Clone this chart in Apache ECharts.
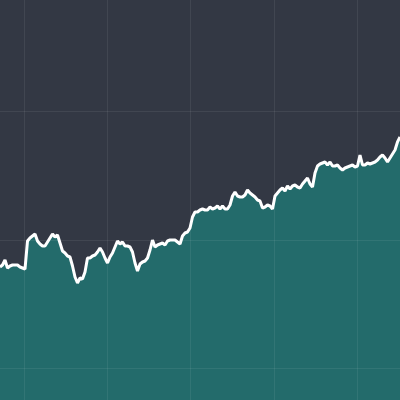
<!DOCTYPE html>
<html>
<head>
<meta charset="utf-8">
<script src="https://cdn.jsdelivr.net/npm/echarts@6/dist/echarts.min.js"></script>
<style>html,body{margin:0;padding:0;background:#333844;}#c{width:400px;height:400px;}</style>
</head>
<body>
<div id="c"></div>
<script>
// Series values (one reading per step, left to right)
var values = [
133,135,140,132,134,135,135,135,133,132,
131,159,162,164,166,159,156,154,154,158,
162,166,163,165,157,149,147,144,143,134,
123,117,122,121,128,142,142,144,145,148,
152,148,142,137,143,147,153,159,156,158,
154,154,153,148,137,129,136,138,139,142,
150,160,153,155,156,157,155,159,160,160,
160,158,156,164,167,168,172,183,188,188,
190,191,190,190,193,191,192,194,191,194,
191,191,195,204,208,204,203,203,205,210,
207,205,203,200,199,192,193,195,194,191,
204,207,210,212,209,214,211,214,215,213,
212,216,219,222,216,213,227,234,236,237,
238,235,238,234,234,235,232,230,232,233,
234,235,233,234,245,235,235,237,236,237,
238,240,243,245,242,238,242,246,250,258,
263
];
var categories = values.map(function (v, i) { return i; });

var chart = echarts.init(document.getElementById('c'), null, {renderer: 'canvas'});
chart.setOption({
  backgroundColor: '#333844',
  animation: false,
  grid: [
    {left: 0, right: 0, top: 0, bottom: 0, containLabel: false, outerBoundsMode: 'none'},
    {left: -59.25, right: -40.25, top: -16.7, bottom: -96.9, containLabel: false, outerBoundsMode: 'none'}
  ],
  xAxis: [
    {type: 'category', data: categories, boundaryGap: false, gridIndex: 0, show: false},
    {type: 'value', gridIndex: 1, min: 0, max: 6, interval: 1, z: 10,
     axisLine: {show: false}, axisTick: {show: false}, axisLabel: {show: false},
     splitLine: {show: true, lineStyle: {color: 'rgba(255,255,255,0.07)', width: 1}}}
  ],
  yAxis: [
    {type: 'value', gridIndex: 0, min: 0, max: 400, show: false},
    {type: 'value', gridIndex: 1, min: 0, max: 4, interval: 1, z: 10,
     axisLine: {show: false}, axisTick: {show: false}, axisLabel: {show: false},
     splitLine: {show: true, lineStyle: {color: 'rgba(255,255,255,0.07)', width: 1}}}
  ],
  series: [{
    type: 'line',
    xAxisIndex: 0, yAxisIndex: 0,
    data: values,
    symbol: 'none',
    smooth: false,
    lineStyle: {color: '#ffffff', width: 3},
    areaStyle: {color: '#236b6b', opacity: 1},
    z: 2
  }]
});
</script>
</body>
</html>
